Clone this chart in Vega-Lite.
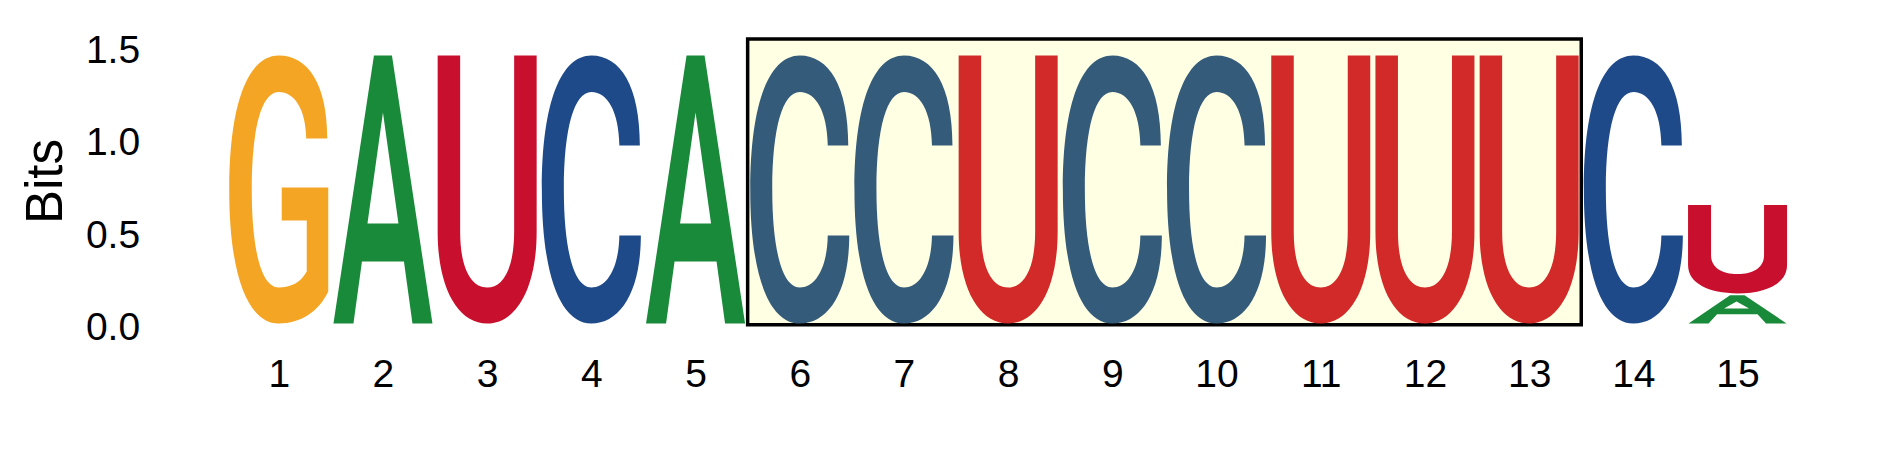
{
  "$schema": "https://vega.github.io/schema/vega-lite/v6.json",
  "width": 1563,
  "height": 295.5,
  "autosize": {"type": "none"},
  "padding": {"left": 226.65, "top": 28, "right": 99.35, "bottom": 148.5},
  "background": "white",
  "config": {
    "view": {"stroke": null},
    "font": "Liberation Sans"
  },
  "datasets": {
    "logo": [
      {"pos": 1, "letter": "G", "region": "outside", "bits_low": 0, "bits_high": 1.453},
      {"pos": 2, "letter": "A", "region": "outside", "bits_low": 0, "bits_high": 1.453},
      {"pos": 3, "letter": "U", "region": "outside", "bits_low": 0, "bits_high": 1.453},
      {"pos": 4, "letter": "C", "region": "outside", "bits_low": 0, "bits_high": 1.453},
      {"pos": 5, "letter": "A", "region": "outside", "bits_low": 0, "bits_high": 1.453},
      {"pos": 6, "letter": "C", "region": "highlighted", "bits_low": 0, "bits_high": 1.453},
      {"pos": 7, "letter": "C", "region": "highlighted", "bits_low": 0, "bits_high": 1.453},
      {"pos": 8, "letter": "U", "region": "highlighted", "bits_low": 0, "bits_high": 1.453},
      {"pos": 9, "letter": "C", "region": "highlighted", "bits_low": 0, "bits_high": 1.453},
      {"pos": 10, "letter": "C", "region": "highlighted", "bits_low": 0, "bits_high": 1.453},
      {"pos": 11, "letter": "U", "region": "highlighted", "bits_low": 0, "bits_high": 1.453},
      {"pos": 12, "letter": "U", "region": "highlighted", "bits_low": 0, "bits_high": 1.453},
      {"pos": 13, "letter": "U", "region": "highlighted", "bits_low": 0, "bits_high": 1.453},
      {"pos": 14, "letter": "C", "region": "outside", "bits_low": 0, "bits_high": 1.453},
      {"pos": 15, "letter": "A", "region": "outside", "bits_low": 0, "bits_high": 0.163},
      {"pos": 15, "letter": "U", "region": "outside", "bits_low": 0.163, "bits_high": 0.642}
    ],
    "highlight": [
      {"pos": 5.5, "pos_end": 13.5, "bits_low": -0.0065, "bits_high": 1.54}
    ]
  },
  "encoding": {
    "x": {
      "field": "pos",
      "type": "quantitative",
      "scale": {"domain": [0.5, 15.5], "nice": false, "zero": false},
      "axis": {
        "title": null,
        "values": [1, 2, 3, 4, 5, 6, 7, 8, 9, 10, 11, 12, 13, 14, 15],
        "format": "d",
        "labelFontSize": 39,
        "labelFont": "Liberation Sans",
        "labelColor": "black",
        "labelPadding": 32,
        "labelAngle": 0,
        "labelFlush": false,
        "labelOverlap": false,
        "ticks": false,
        "tickSize": 0,
        "domain": false,
        "grid": false
      }
    },
    "y": {
      "field": "bits_low",
      "type": "quantitative",
      "scale": {"domain": [0, 1.6], "nice": false, "zero": false},
      "axis": {
        "title": "Bits",
        "values": [0, 0.5, 1, 1.5],
        "format": ".1f",
        "labelFontSize": 39,
        "labelFont": "Liberation Sans",
        "labelColor": "black",
        "labelPadding": 87,
        "labelOffset": 4,
        "labelOverlap": false,
        "labelFlush": false,
        "ticks": false,
        "tickSize": 0,
        "domain": false,
        "grid": false,
        "titleFont": "Liberation Sans",
        "titleFontSize": 51,
        "titleFontWeight": "normal",
        "titleColor": "black",
        "titleAngle": -90,
        "titleBaseline": "alphabetic",
        "titleAlign": "center",
        "titleX": -165,
        "titleY": 153
      }
    }
  },
  "layer": [
    {
      "data": {"name": "highlight"},
      "mark": {"type": "rect", "fill": "#FFFFE4", "stroke": "black", "strokeWidth": 3.5},
      "encoding": {
        "x2": {"field": "pos_end"},
        "y2": {"field": "bits_high"}
      }
    },
    {
      "data": {"name": "logo"},
      "transform": [{"filter": "datum.letter === 'G' && datum.bits_high - datum.bits_low > 1"}],
      "mark": {
        "type": "point",
        "shape": "M 48.5 -185 C 48.5 -240 29 -268 0 -268 C -30 -268 -49.5 -222 -49.5 -134 C -49.5 -46 -30 0 0 0 C 22 0 40 -12 49.5 -32 L 49.5 -136 L 3 -136 L 3 -103 L 28 -103 L 28 -52 C 22 -41 12 -36 0 -36 C -17 -36 -27 -72 -27 -134 C -27 -196 -17 -231.5 0 -231.5 C 16 -231.5 27 -214 27.5 -185 Z",
        "size": 4,
        "filled": true,
        "opacity": 1,
        "strokeWidth": 0,
        "color": "#F4A523"
      }
    },
    {
      "data": {"name": "logo"},
      "transform": [{"filter": "datum.letter === 'A' && datum.bits_high - datum.bits_low > 1"}],
      "mark": {
        "type": "point",
        "shape": "M -49.5 0 L -9 -268 L 9 -268 L 49.5 0 L 29.5 0 L 21 -62 L -21 -62 L -29.5 0 Z M 0 -211 L -15.5 -100 L 15.5 -100 Z",
        "size": 4,
        "filled": true,
        "opacity": 1,
        "strokeWidth": 0,
        "color": "#198A39"
      }
    },
    {
      "data": {"name": "logo"},
      "transform": [{"filter": "datum.letter === 'U' && datum.bits_high - datum.bits_low > 1"}],
      "mark": {
        "type": "point",
        "shape": "M -49.5 -268 L -27 -268 L -27 -92 C -27 -55 -16 -36 0 -36 C 16 -36 27 -55 27 -92 L 27 -268 L 49.5 -268 L 49.5 -92 C 49.5 -35 29 0 0 0 C -29 0 -49.5 -35 -49.5 -92 Z",
        "size": 4,
        "filled": true,
        "opacity": 1,
        "strokeWidth": 0
      },
      "encoding": {
        "color": {
          "field": "region",
          "type": "nominal",
          "scale": {"domain": ["outside", "highlighted"], "range": ["#C8102E", "#D12A29"]},
          "legend": null
        }
      }
    },
    {
      "data": {"name": "logo"},
      "transform": [{"filter": "datum.letter === 'C' && datum.bits_high - datum.bits_low > 1"}],
      "mark": {
        "type": "point",
        "shape": "M 48.5 -178 C 48.5 -238 29 -268 0 -268 C -30 -268 -49.5 -222 -49.5 -134 C -49.5 -46 -30 0 0 0 C 29 0 49.5 -32 49.5 -88 L 28 -88 C 27.5 -56 16 -36 0 -36 C -17 -36 -27.5 -72 -27.5 -134 C -27.5 -196 -17 -231.5 0 -231.5 C 16 -231.5 27.5 -212 28 -178 Z",
        "size": 4,
        "filled": true,
        "opacity": 1,
        "strokeWidth": 0
      },
      "encoding": {
        "color": {
          "field": "region",
          "type": "nominal",
          "scale": {"domain": ["outside", "highlighted"], "range": ["#1E4A89", "#345B7A"]},
          "legend": null
        }
      }
    },
    {
      "data": {"name": "logo"},
      "transform": [{"filter": "datum.letter === 'U' && datum.bits_high - datum.bits_low < 1"}],
      "mark": {
        "type": "point",
        "shape": "M -49.5 -88.3 L -26.5 -88.3 L -26.5 -38.3 C -26.5 -25 -15 -19.3 0 -19.3 C 15 -19.3 26.5 -25 26.5 -38.3 L 26.5 -88.3 L 49.5 -88.3 L 49.5 -28.3 C 49.5 -10 29 0 0 0 C -29 0 -49.5 -10 -49.5 -28.3 Z",
        "size": 4,
        "filled": true,
        "opacity": 1,
        "strokeWidth": 0,
        "color": "#C8102E"
      }
    },
    {
      "data": {"name": "logo"},
      "transform": [{"filter": "datum.letter === 'A' && datum.bits_high - datum.bits_low < 1"}],
      "mark": {
        "type": "point",
        "shape": "M -49 0 L -7.5 -28.3 L 7 -28.3 L 49 0 L 28.5 0 L 20 -9.3 L -20.5 -9.3 L -29 0 Z M -1 -22 L -13.5 -15 L 11.5 -15 Z",
        "size": 4,
        "filled": true,
        "opacity": 1,
        "strokeWidth": 0,
        "color": "#198A39"
      }
    }
  ],
  "resolve": {"scale": {"color": "independent"}}
}
